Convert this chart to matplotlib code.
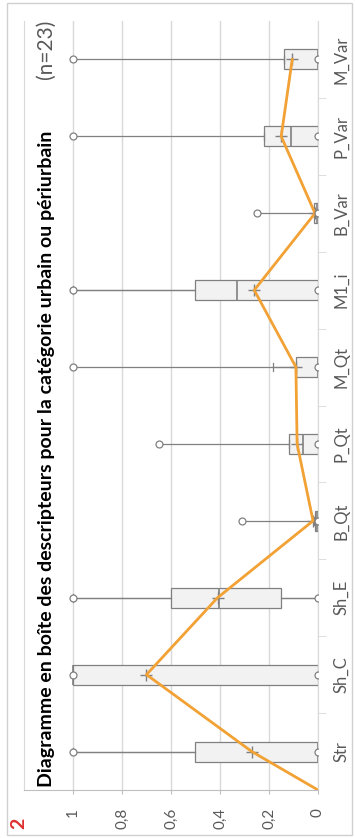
import numpy as np
import matplotlib
matplotlib.use("Agg")
import matplotlib.pyplot as plt
from matplotlib.patches import Rectangle

plt.rcParams['font.family'] = ['Lato', 'DejaVu Sans']

# descripteurs (de bas en haut)
categories = ['Str', 'Sh_C', 'Sh_E', 'B_Qt', 'P_Qt', 'M_Qt', 'M1_i', 'B_Var', 'P_Var', 'M_Var']
vmin = [0, 0, 0, 0, 0, 0, 0, 0, 0, 0]
vmax = [1.0, 1.0, 1.0, 0.31, 0.65, 1.0, 1.0, 0.25, 1.0, 1.0]
q1 = [0, 0, 0.15, 0, 0, 0, 0, 0, 0, 0]
med = [0, 1.0, 0.405, 0.005, 0.06, 0, 0.33, 0.005, 0.11, 0]
q3 = [0.5, 1.0, 0.6, 0.012, 0.118, 0.088, 0.5, 0.015, 0.22, 0.14]
whis_hi = [1.0, 1.0, 1.0, 0.015, 0.118, 0.185, 1.0, 0.015, 0.22, 0.14]
moyennes = [0.27, 0.70, 0.41, 0.02, 0.085, 0.09, 0.26, 0.012, 0.15, 0.105]
debut_ligne = 0.0
xticks = [0, 0.2, 0.4, 0.6, 0.8, 1.0]
xlabels = ['0', '0,2', '0,4', '0,6', '0,8', '1']

gris = '#808080'
orange = '#f2a134'

fig = plt.figure(figsize=(3.55, 8.38), dpi=100)
fig.patches.append(Rectangle((0.0197, 0.0036), 0.972, 0.993, transform=fig.transFigure,
                             fill=False, edgecolor='#d0d0d0', lw=1))
ax = fig.add_axes([0.0676, 0.0573, 0.828, 0.9176])

pos = np.arange(1, len(categories) + 1)

stats = []
for i, c in enumerate(categories):
    stats.append(dict(label=c, whislo=vmin[i], q1=q1[i], med=med[i], q3=q3[i],
                      whishi=whis_hi[i], mean=moyennes[i], fliers=[]))

# ligne min-max
ax.hlines(pos, vmin, vmax, color=gris, lw=0.9, zorder=1)

ax.bxp(stats, positions=pos, widths=0.26, orientation='horizontal', patch_artist=True,
       showmeans=True, showfliers=False, capwidths=0.1,
       boxprops=dict(facecolor='#f2f2f2', edgecolor=gris, lw=0.9),
       whiskerprops=dict(color=gris, lw=0.9),
       capprops=dict(color=gris, lw=0.9),
       medianprops=dict(color=gris, lw=1.2),
       meanprops=dict(marker='+', markeredgecolor=gris, markersize=9, markeredgewidth=1),
       zorder=2)

ax.plot(vmin, pos, 'o', mfc='white', mec=gris, ms=5, mew=0.9, zorder=4)
ax.plot(vmax, pos, 'o', mfc='white', mec=gris, ms=5, mew=0.9, zorder=4)

# ligne des moyennes
ax.plot([debut_ligne] + moyennes, [pos[0] - 0.5] + list(pos), color=orange, lw=2, zorder=3)

ax.set_xlim(1.2, 0)
ax.set_ylim(0.5, len(categories) + 0.5)
ax.set_xticks(xticks)
ax.set_xticklabels(xlabels, rotation=90, fontsize=11, color='#595959')
ax.tick_params(axis='x', length=3, pad=10, color='#bfbfbf')
ax.grid(axis='x', color='#d9d9d9', lw=1)
ax.set_axisbelow(True)

ax.yaxis.tick_right()
ax.set_yticks(pos)
ax.set_yticklabels(categories, rotation=90, va='center', fontsize=12, color='#595959')
ax.set_yticks(pos[:-1] + 0.5, minor=True)
ax.tick_params(axis='y', which='major', length=0, pad=11)
ax.tick_params(axis='y', which='minor', length=6, color='#d9d9d9')

ax.spines['top'].set_visible(False)
ax.spines['left'].set_color('#d9d9d9')
ax.spines['right'].set_color('#d9d9d9')
ax.spines['bottom'].set_color('#bfbfbf')

fig.text(0.13, 0.061, 'Diagramme en boîte des descripteurs pour la catégorie urbain ou périurbain',
         rotation=90, ha='center', va='bottom', fontsize=14, fontweight='bold', color='black')
fig.text(0.13, 0.977, '(n=23)', rotation=90, ha='center', va='top', fontsize=15, color='#595959')
fig.text(0.053, 0.018, '2', rotation=90, ha='center', va='center', fontsize=14,
         fontweight='bold', color='#e03030')

fig.savefig('out.png', dpi=100)
